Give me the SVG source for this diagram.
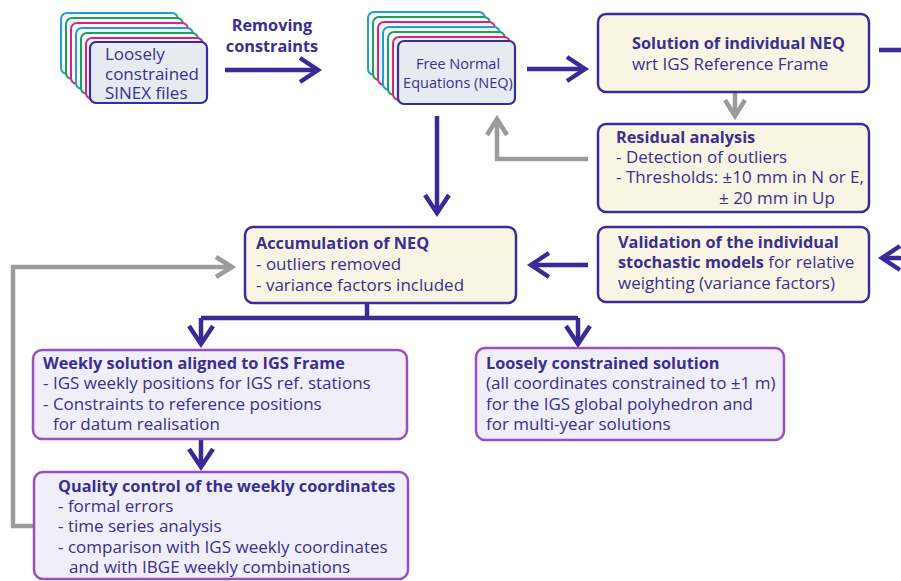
<svg xmlns="http://www.w3.org/2000/svg" width="901" height="581" viewBox="0 0 901 581">
<defs>
<style>
text{font-family:"Open Sans","DejaVu Sans",sans-serif;fill:#3b2f8f;font-size:17px}
.b{font-weight:bold;font-size:16.3px}
.sm{font-size:14.5px}
.card{stroke-width:2;fill:#f8f9f5}
.c{stroke:#1e9fd6}.g{stroke:#1aa35e}.p{stroke:#e0208a}
.front{fill:#e5ebf1;stroke:#3d2c98;stroke-width:2.2}
.cream{fill:#f8f5e5;stroke:#3d2c98;stroke-width:2.5}
.lav{fill:#f0eef8;stroke:#9a4fc0;stroke-width:2.5}
.lp{fill:none;stroke:#3b2a96;stroke-width:4.5}
.lg{fill:none;stroke:#9b9b9b;stroke-width:4.5}
</style>
<marker id="ap" markerUnits="userSpaceOnUse" viewBox="-24 -16 30 32" markerWidth="30" markerHeight="32" refX="0" refY="0" orient="auto"><path d="M-18,-12 L0,0 L-18,12" fill="none" stroke="#3b2a96" stroke-width="4.5"/></marker>
<marker id="ag" markerUnits="userSpaceOnUse" viewBox="-24 -16 30 32" markerWidth="30" markerHeight="32" refX="0" refY="0" orient="auto"><path d="M-16,-10 L0,0 L-16,10" fill="none" stroke="#9b9b9b" stroke-width="4.5"/></marker>
</defs>
<rect width="901" height="581" fill="#ffffff"/>

<g id="connectors">
<path class="lp" d="M225,70 H318" marker-end="url(#ap)"/>
<path class="lp" d="M527,69 H585" marker-end="url(#ap)"/>
<path class="lp" d="M879,50 H901"/>
<path class="lg" d="M735,93 V116" marker-end="url(#ag)"/>
<path class="lg" d="M588,159 H497 V119" marker-end="url(#ag)"/>
<path class="lp" d="M437,116 V213" marker-end="url(#ap)"/>
<path class="lp" d="M588,265 H531" marker-end="url(#ap)"/>
<path class="lp" d="M901,258 H882" marker-end="url(#ap)"/>
<path class="lg" d="M33,526 H13 V267 H232" marker-end="url(#ag)"/>
<path class="lp" d="M367,303 V318"/>
<path class="lp" d="M201,318 H578"/>
<path class="lp" d="M201,318 V344" marker-end="url(#ap)"/>
<path class="lp" d="M578,318 V344" marker-end="url(#ap)"/>
<path class="lp" d="M201,440 V467" marker-end="url(#ap)"/>
</g>

<g id="sinex">
<rect class="card c" x="61" y="13" width="117" height="61" rx="6"/>
<rect class="card g" x="66" y="18" width="117" height="61" rx="6"/>
<rect class="card p" x="71" y="23" width="117" height="61" rx="6"/>
<rect class="card c" x="76" y="28" width="117" height="61" rx="6"/>
<rect class="card g" x="81" y="33" width="117" height="61" rx="6"/>
<rect class="card p" x="86" y="38" width="117" height="61" rx="6"/>
<rect class="front" x="90" y="42" width="117" height="61" rx="6"/>
<text x="105" y="60">Loosely</text>
<text x="105" y="80">constrained</text>
<text x="105" y="99">SINEX files</text>
</g>

<g id="removing-label">
<text class="b" x="272" y="31" text-anchor="middle">Removing</text>
<text class="b" x="272" y="52" text-anchor="middle">constraints</text>
</g>

<g id="neq">
<rect class="card c" x="368" y="12" width="117" height="63" rx="6"/>
<rect class="card g" x="373" y="17" width="117" height="63" rx="6"/>
<rect class="card p" x="378" y="22" width="117" height="63" rx="6"/>
<rect class="card c" x="383" y="27" width="117" height="63" rx="6"/>
<rect class="card g" x="388" y="32" width="117" height="63" rx="6"/>
<rect class="card p" x="393" y="37" width="117" height="63" rx="6"/>
<rect class="front" x="398" y="41" width="117" height="63" rx="6"/>
<text class="sm" x="458" y="69" text-anchor="middle">Free Normal</text>
<text class="sm" x="458" y="88" text-anchor="middle">Equations (NEQ)</text>
</g>

<g id="solution">
<rect class="cream" x="598" y="14" width="271" height="78" rx="8"/>
<text class="b" x="632" y="49">Solution of individual NEQ</text>
<text x="632" y="70">wrt IGS Reference Frame</text>
</g>

<g id="residual">
<rect class="cream" x="598" y="124" width="271" height="88" rx="8"/>
<text class="b" x="616" y="143">Residual analysis</text>
<text x="616" y="163">- Detection of outliers</text>
<text x="616" y="183">- Thresholds: ±10 mm in N or E,</text>
<text x="719" y="204">± 20 mm in Up</text>
</g>

<g id="accumulation">
<rect class="cream" x="245" y="227" width="271" height="76" rx="8"/>
<text class="b" x="256" y="249">Accumulation of NEQ</text>
<text x="256" y="270">- outliers removed</text>
<text x="256" y="291">- variance factors included</text>
</g>

<g id="validation">
<rect class="cream" x="598" y="227" width="271" height="75" rx="8"/>
<text class="b" x="618" y="248">Validation of the individual</text>
<text x="618" y="268"><tspan class="b">stochastic models</tspan> for relative</text>
<text x="618" y="289">weighting (variance factors)</text>
</g>

<g id="weekly">
<rect class="lav" x="33" y="350" width="374" height="89" rx="9"/>
<text class="b" x="43" y="369">Weekly solution aligned to IGS Frame</text>
<text x="43" y="389">- IGS weekly positions for IGS ref. stations</text>
<text x="43" y="410">- Constraints to reference positions</text>
<text x="53" y="430">for datum realisation</text>
</g>

<g id="loosely">
<rect class="lav" x="476" y="348" width="308" height="92" rx="9"/>
<text class="b" x="486" y="369">Loosely constrained solution</text>
<text x="486" y="389">(all coordinates constrained to ±1 m)</text>
<text x="486" y="410">for the IGS global polyhedron and</text>
<text x="486" y="430">for multi-year solutions</text>
</g>

<g id="quality">
<rect class="lav" x="34" y="472" width="374" height="107" rx="9"/>
<text class="b" x="58" y="492">Quality control of the weekly coordinates</text>
<text x="58" y="512">- formal errors</text>
<text x="58" y="532">- time series analysis</text>
<text x="58" y="553">- comparison with IGS weekly coordinates</text>
<text x="69" y="573">and with IBGE weekly combinations</text>
</g>
</svg>
